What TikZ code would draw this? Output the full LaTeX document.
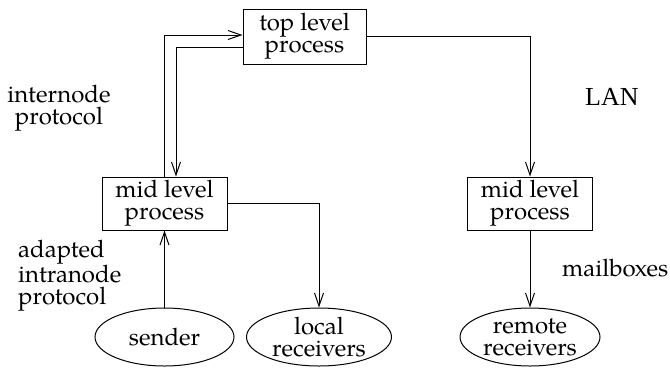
\documentclass[tikz,border=0pt]{standalone}
\usepackage{fontspec}
\setmainfont{TeX Gyre Pagella}
\newfontfamily\lanfont{Liberation Serif}
\usetikzlibrary{arrows.meta,shapes.geometric}
\begin{document}
\begin{tikzpicture}[x=1pt,y=-1pt,
  every node/.style={font=\fontsize{24}{22}\selectfont},
  proc/.style={draw,line width=1pt,rectangle,inner sep=0pt,align=center},
  agent/.style={draw,line width=1pt,ellipse,inner sep=0pt,align=center},
  conn/.style={line width=1pt},
  arr/.style={conn,-{Straight Barb[length=13pt,width=9pt,line width=1pt]}},
  lbl/.style={inner sep=0pt}]
\useasboundingbox (0,0) rectangle (670,368);
\node[proc,minimum width=123pt,minimum height=55pt] (top) at (304.5,36.5) {top level\\process};
\node[proc,minimum width=125pt,minimum height=53pt] (midL) at (164.5,203.5) {mid level\\process};
\node[proc,minimum width=125pt,minimum height=53pt] (midR) at (530,203.5) {mid level\\process};
\node[agent,minimum width=139pt,minimum height=58pt] (sender) at (164.5,337) {sender};
\node[agent,minimum width=145pt,minimum height=58pt] (local) at (319,337) {local\\receivers};
\node[agent,minimum width=140pt,minimum height=58pt] (remote) at (530,337) {remote\\receivers};
\draw[arr] (midL.north) |- ([yshift=1.5pt]top.west);
\draw[arr] ([yshift=-10.5pt]top.west) -| ([xshift=11.5pt]midL.north);
\draw[arr] (top.east) -| (midR.north);
\draw[arr] (midL.east) -| (local.north);
\draw[arr] (sender.north) -- (midL.south);
\draw[arr] (midR.south) -- (remote.north);
\node[lbl,align=center] (inter) at (59,108.5) {internode\\protocol};
\node[lbl,align=left,anchor=west] (intra) at (18,276) {adapted\\intranode\\protocol};
\node[lbl,anchor=base west,font=\lanfont\fontsize{26}{26}\selectfont] (lan) at (585,105) {LAN};
\node[lbl,anchor=base west] (mail) at (562,276) {mailboxes};
\end{tikzpicture}
\end{document}
